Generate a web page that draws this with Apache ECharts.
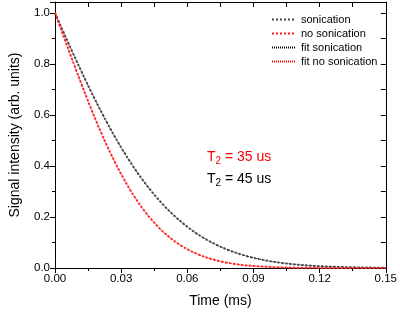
<!DOCTYPE html>
<html>
<head>
<meta charset="utf-8">
<script src="https://cdn.jsdelivr.net/npm/echarts@6/dist/echarts.min.js"></script>
<style>
  html, body { margin: 0; padding: 0; background: #fff; }
  #chart { width: 400px; height: 313px; }
</style>
</head>
<body>
<div id="chart"></div>
<script>
// time axis (ms), step 0.0025
var time = []
for (var i = 0; i <= 60; i++) time.push(+(i * 0.0025).toFixed(4))

// upper curve, T2 = 45 us
var sonication = [
  1.0000, 0.9511, 0.9026, 0.8546, 0.8073, 0.7610, 0.7157, 0.6716, 0.6288, 0.5874,
  0.5474, 0.5091, 0.4724, 0.4373, 0.4039, 0.3723, 0.3423, 0.3141, 0.2875, 0.2626,
  0.2393, 0.2176, 0.1974, 0.1787, 0.1614, 0.1454, 0.1307, 0.1173, 0.1050, 0.0937,
  0.0835, 0.0743, 0.0659, 0.0583, 0.0515, 0.0453, 0.0399, 0.0350, 0.0306, 0.0267,
  0.0233, 0.0202, 0.0176, 0.0152, 0.0131, 0.0113, 0.0097, 0.0083, 0.0071, 0.0061,
  0.0052, 0.0044, 0.0037, 0.0032, 0.0027, 0.0022, 0.0019, 0.0016, 0.0013, 0.0011,
  0.0009
]
// lower curve, T2 = 35 us
var noSonication = [
  1.0000, 0.9417, 0.8829, 0.8244, 0.7665, 0.7096, 0.6542, 0.6006, 0.5490, 0.4998,
  0.4530, 0.4089, 0.3675, 0.3289, 0.2931, 0.2601, 0.2298, 0.2022, 0.1772, 0.1546,
  0.1343, 0.1162, 0.1001, 0.0859, 0.0733, 0.0624, 0.0528, 0.0446, 0.0374, 0.0313,
  0.0261, 0.0216, 0.0178, 0.0147, 0.0120, 0.0098, 0.0080, 0.0064, 0.0052, 0.0041,
  0.0033, 0.0026, 0.0021, 0.0016, 0.0013, 0.0010, 0.0008, 0.0006, 0.0004, 0.0003,
  0.0002, 0.0002, 0.0001, 0.0001, 0.0001, 0.0000, 0.0000, 0.0000, 0.0000, 0.0000,
  0.0000
]
var fitSonication = sonication
var fitNoSonication = noSonication

var yTicks = [0, 0.2, 0.4, 0.6, 0.8, 1.0]

function pairs(xs, ys) {
  return xs.map(function (x, i) { return [x, ys[i]] })
}

var font = 'Arial, "Liberation Sans", sans-serif'
var axisBase = {
  type: 'value',
  axisLine: { show: true, onZero: false, lineStyle: { color: '#000', width: 1 } },
  splitLine: { show: false },
  minorTick: { show: true, splitNumber: 2, length: 3, lineStyle: { color: '#000' } }
}

var chart = echarts.init(document.getElementById('chart'))
chart.setOption({
  animation: false,
  textStyle: { fontFamily: font },
  grid: { left: 55, right: 12, top: 2, bottom: 44 },
  legend: {
    orient: 'vertical',
    left: 266,
    top: 9,
    itemWidth: 24,
    itemHeight: 10,
    itemGap: 3,
    itemStyle: { opacity: 0 },
    textStyle: { fontSize: 11, color: '#000', fontFamily: font },
    data: ['sonication', 'no sonication', 'fit sonication', 'fit no sonication']
  },
  xAxis: [
    Object.assign({}, axisBase, {
      position: 'bottom',
      min: 0, max: 0.15, interval: 0.03,
      name: 'Time (ms)',
      nameLocation: 'middle',
      nameGap: 26,
      nameTextStyle: { fontSize: 14, color: '#000' },
      axisTick: { show: true, inside: false, length: 5, lineStyle: { color: '#000' } },
      axisLabel: {
        fontSize: 11.5, color: '#000', margin: 5,
        formatter: function (v) { return v.toFixed(2) }
      }
    }),
    Object.assign({}, axisBase, {
      position: 'top',
      min: 0, max: 0.15, interval: 0.03,
      axisTick: { show: true, inside: true, length: 5, lineStyle: { color: '#000' } },
      minorTick: { show: true, splitNumber: 2, length: 5, lineStyle: { color: '#000' } },
      axisLabel: { show: false }
    })
  ],
  yAxis: [
    Object.assign({}, axisBase, {
      position: 'left',
      min: 0, max: 1.043, interval: 0.2,
      name: 'Signal intensity (arb. units)',
      nameLocation: 'middle',
      nameGap: 33,
      nameTextStyle: { fontSize: 14, color: '#000' },
      axisTick: { show: true, inside: false, length: 5, lineStyle: { color: '#000' } },
      axisLabel: {
        fontSize: 11.5, color: '#000', margin: 5,
        formatter: function (v) {
          return yTicks.some(function (t) { return Math.abs(t - v) < 1e-6 }) ? v.toFixed(1) : ''
        }
      }
    }),
    Object.assign({}, axisBase, {
      position: 'right',
      min: 0, max: 1.043, interval: 0.2,
      axisTick: { show: true, inside: true, length: 5, lineStyle: { color: '#000' } },
      minorTick: { show: true, splitNumber: 2, length: 5, lineStyle: { color: '#000' } },
      axisLabel: { show: false }
    })
  ],
  series: [
    {
      name: 'fit sonication', type: 'line', symbol: 'none', silent: true,
      lineStyle: { color: '#000', width: 1, type: [1, 1] },
      itemStyle: { color: '#000' },
      data: pairs(time, fitSonication)
    },
    {
      name: 'fit no sonication', type: 'line', symbol: 'none', silent: true,
      lineStyle: { color: '#ff0000', width: 1, type: [1, 1] },
      itemStyle: { color: '#ff0000' },
      data: pairs(time, fitNoSonication)
    },
    {
      name: 'sonication', type: 'line', symbol: 'none', silent: true,
      lineStyle: { color: '#444', width: 2, type: [2, 2] },
      itemStyle: { color: '#444' },
      data: pairs(time, sonication)
    },
    {
      name: 'no sonication', type: 'line', symbol: 'none', silent: true,
      lineStyle: { color: '#ff2020', width: 2, type: [2, 2] },
      itemStyle: { color: '#ff2020' },
      data: pairs(time, noSonication)
    }
  ],
  graphic: [
    {
      type: 'text', left: 207, top: 150,
      style: {
        text: 'T{s|2} = 35 us', fill: '#ff0000', fontSize: 14, fontFamily: font,
        rich: { s: { fontSize: 10, fill: '#ff0000', padding: [9, 0, 0, 0] } }
      }
    },
    {
      type: 'text', left: 207, top: 172,
      style: {
        text: 'T{s|2} = 45 us', fill: '#000', fontSize: 14, fontFamily: font,
        rich: { s: { fontSize: 10, fill: '#000', padding: [9, 0, 0, 0] } }
      }
    }
  ]
})
</script>
</body>
</html>
